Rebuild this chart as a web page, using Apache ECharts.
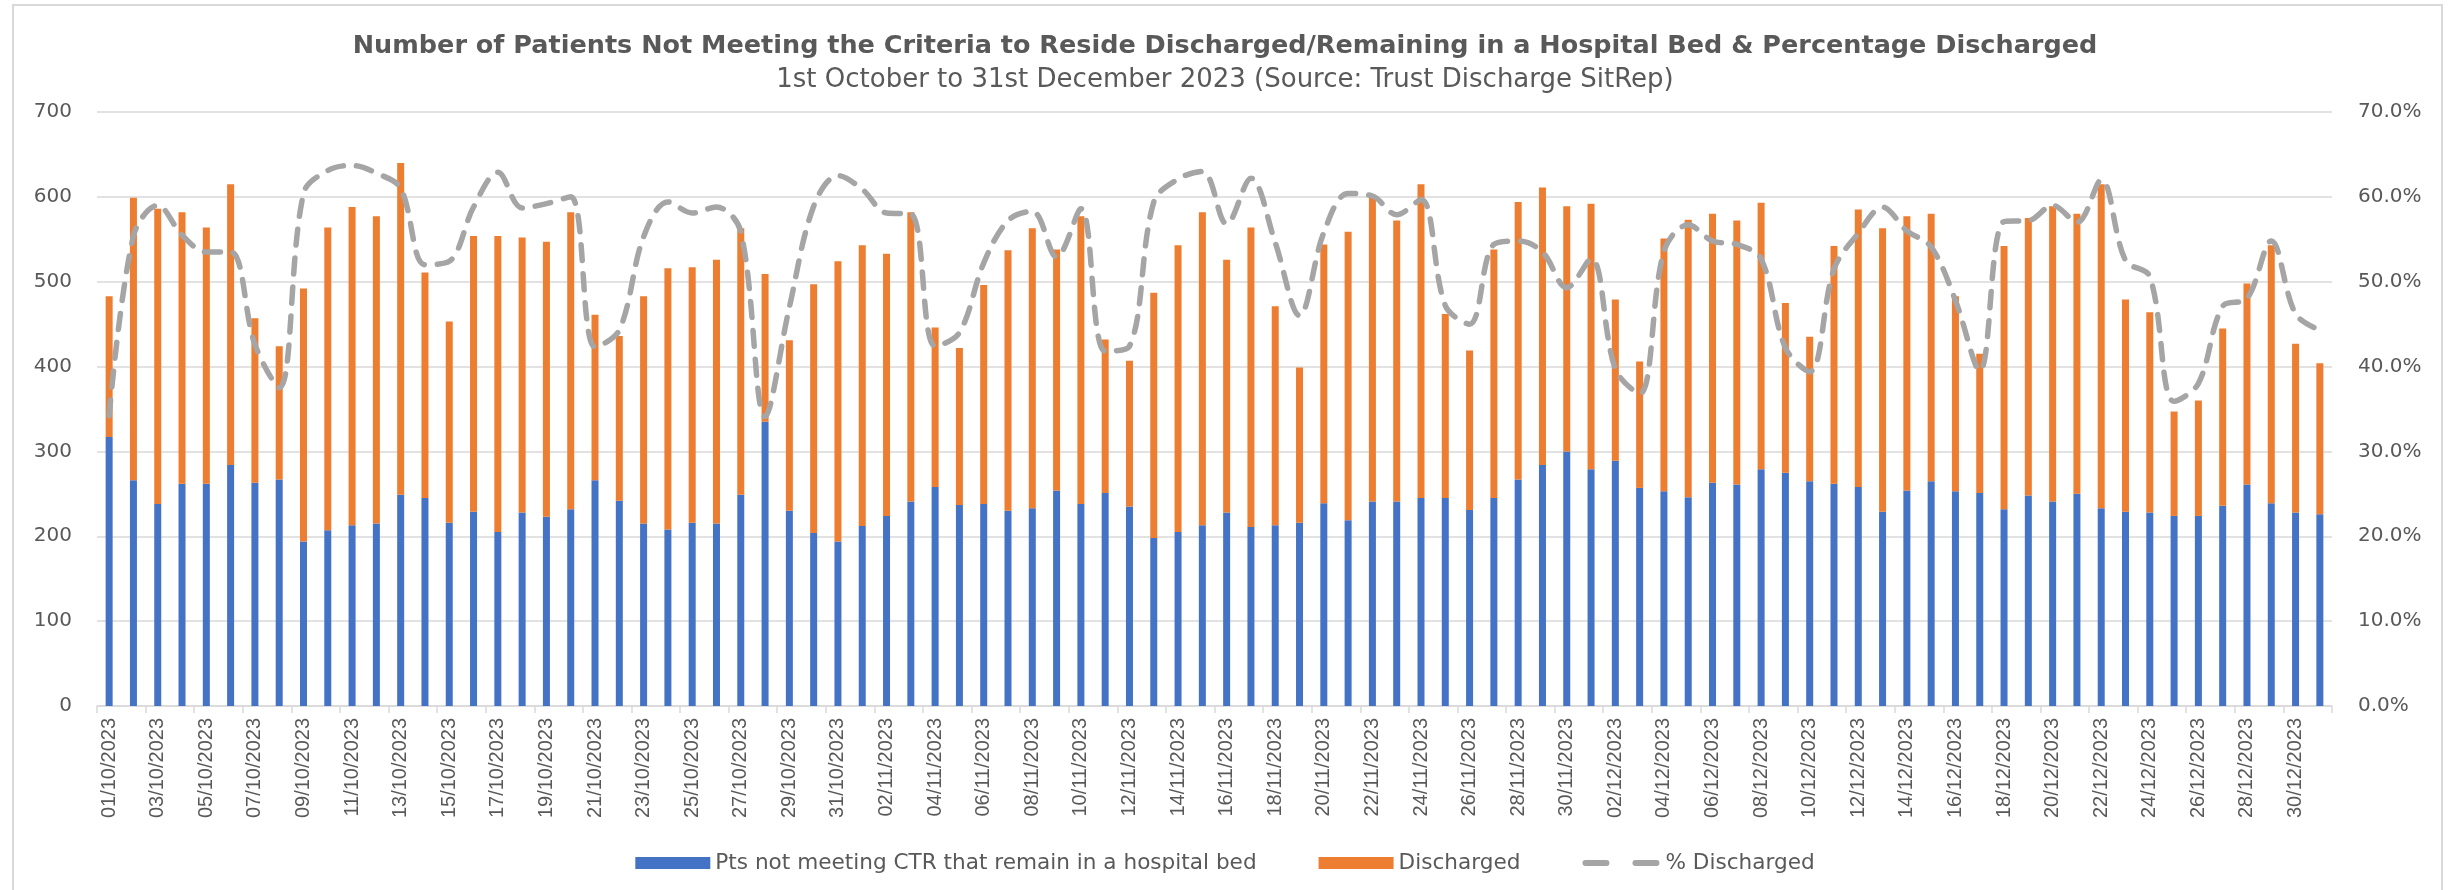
<!DOCTYPE html>
<html>
<head>
<meta charset="utf-8">
<script src="https://cdn.jsdelivr.net/npm/echarts@6/dist/echarts.min.js"></script>
<style>
html,body{margin:0;padding:0;background:#fff;}
#chart{width:2450px;height:890px;}
</style>
</head>
<body>
<div id="chart"></div>
<script>
const titleText = 'Number of Patients Not Meeting the Criteria to Reside Discharged/Remaining in a Hospital Bed & Percentage Discharged';
const subtitleText = '1st October to 31st December 2023 (Source: Trust Discharge SitRep)';
const seriesNames = ['Pts not meeting CTR that remain in a hospital bed', 'Discharged', '% Discharged'];

const dates = [
'01/10/2023','02/10/2023','03/10/2023','04/10/2023','05/10/2023','06/10/2023','07/10/2023','08/10/2023','09/10/2023','10/10/2023',
'11/10/2023','12/10/2023','13/10/2023','14/10/2023','15/10/2023','16/10/2023','17/10/2023','18/10/2023','19/10/2023','20/10/2023',
'21/10/2023','22/10/2023','23/10/2023','24/10/2023','25/10/2023','26/10/2023','27/10/2023','28/10/2023','29/10/2023','30/10/2023',
'31/10/2023',
'01/11/2023','02/11/2023','03/11/2023','04/11/2023','05/11/2023','06/11/2023','07/11/2023','08/11/2023','09/11/2023','10/11/2023',
'11/11/2023','12/11/2023','13/11/2023','14/11/2023','15/11/2023','16/11/2023','17/11/2023','18/11/2023','19/11/2023','20/11/2023',
'21/11/2023','22/11/2023','23/11/2023','24/11/2023','25/11/2023','26/11/2023','27/11/2023','28/11/2023','29/11/2023','30/11/2023',
'01/12/2023','02/12/2023','03/12/2023','04/12/2023','05/12/2023','06/12/2023','07/12/2023','08/12/2023','09/12/2023','10/12/2023',
'11/12/2023','12/12/2023','13/12/2023','14/12/2023','15/12/2023','16/12/2023','17/12/2023','18/12/2023','19/12/2023','20/12/2023',
'21/12/2023','22/12/2023','23/12/2023','24/12/2023','25/12/2023','26/12/2023','27/12/2023','28/12/2023','29/12/2023','30/12/2023',
'31/12/2023'
];

// Pts not meeting CTR that remain in a hospital bed (blue)
const remaining = [
317,266,238,262,262,284,263,267,194,207,
213,215,249,245,216,229,205,228,223,232,
266,242,215,208,216,215,249,335,230,204,
194,
212,224,241,258,237,238,230,233,254,238,
251,235,198,205,213,228,211,213,216,239,
219,241,241,245,245,231,245,267,284,300,
279,289,257,253,246,263,261,279,275,265,
262,258,229,254,265,253,251,232,248,241,
250,233,229,228,224,224,236,261,239,228,
226
];

// Discharged (orange, stacked on top)
const discharged = [
166,333,348,320,302,331,194,157,298,357,
375,362,391,266,237,325,349,324,324,350,
195,194,268,308,301,311,314,174,201,293,
330,
331,309,341,188,185,258,307,330,284,339,
181,172,289,338,369,298,353,258,183,305,
340,361,331,370,217,188,293,327,327,289,
313,190,149,298,327,317,311,314,200,170,
280,327,334,323,315,230,164,310,327,348,
330,382,250,236,123,136,209,237,304,199,
178
];

// % Discharged (right axis, in percent)
const pctDischarged = [
34.2,55.4,59.0,55.5,53.5,53.5,42.6,37.5,60.4,63.1,
63.7,62.8,61.0,52.0,52.4,58.8,62.9,58.7,59.2,60.0,
42.3,44.3,55.3,59.4,58.1,58.8,55.9,34.1,47.0,58.9,
62.5,
60.9,58.1,58.0,42.4,44.0,52.2,57.2,58.3,52.9,58.6,
41.8,42.4,59.4,62.1,63.0,56.8,62.2,54.6,46.0,55.8,
60.4,60.1,57.9,59.7,47.2,45.0,54.4,54.8,53.5,49.3,
52.7,39.7,36.8,53.6,56.7,54.8,54.4,52.7,42.2,39.4,
51.5,55.7,58.8,56.0,54.1,47.8,39.5,57.1,57.2,59.0,
57.0,62.0,52.5,50.6,35.9,38.0,47.1,48.0,54.8,46.2,
44.3
];

const leftTicks = {min: 0, max: 700, interval: 100};
const rightTicks = {min: 0, max: 70, interval: 10};

const txt = '#595959';
const chart = echarts.init(document.getElementById('chart'), null, {renderer: 'canvas'});
chart.setOption({
  backgroundColor: '#ffffff',
  animation: false,
  graphic: [{
    type: 'rect', shape: {x: 13, y: 5, width: 2429, height: 900},
    style: {fill: 'none', stroke: '#d9d9d9', lineWidth: 2}, silent: true, z: -1
  }],
  title: [
    {text: titleText, left: 'center', top: 28,
     textStyle: {fontFamily: 'DejaVu Sans', fontWeight: 'bold', fontSize: 25.5, color: txt}},
    {text: subtitleText, left: 'center', top: 62,
     textStyle: {fontFamily: 'DejaVu Sans', fontWeight: 'normal', fontSize: 26, color: txt}}
  ],
  legend: {
    bottom: 11, left: 'center',
    itemWidth: 75, itemHeight: 12, itemGap: 62,
    textStyle: {fontFamily: 'DejaVu Sans', fontSize: 21.6, color: txt},
    data: [
      {name: seriesNames[0], icon: 'rect'},
      {name: seriesNames[1], icon: 'rect'},
      {name: seriesNames[2], itemStyle: {opacity: 0},
       lineStyle: {type: [21, 29], cap: 'round', width: 6, color: '#A5A5A5'}}
    ]
  },
  grid: {left: 97, right: 118, top: 112, height: 594, containLabel: false},
  xAxis: {
    type: 'category', data: dates, boundaryGap: true,
    axisLine: {lineStyle: {color: '#d9d9d9', width: 1.5}},
    axisTick: {show: true, interval: 1, alignWithLabel: false, length: 7, lineStyle: {color: '#d9d9d9', width: 1.5}},
    axisLabel: {interval: 1, rotate: 90, margin: 12, fontFamily: 'Liberation Sans', fontSize: 20, color: txt}
  },
  yAxis: [
    {type: 'value', min: leftTicks.min, max: leftTicks.max, interval: leftTicks.interval,
     axisLine: {show: false}, axisTick: {show: false},
     splitLine: {lineStyle: {color: '#d9d9d9', width: 1.5}},
     axisLabel: {margin: 25, fontFamily: 'DejaVu Sans', fontSize: 20, color: txt}},
    {type: 'value', min: rightTicks.min, max: rightTicks.max, interval: rightTicks.interval, position: 'right',
     axisLine: {show: false}, axisTick: {show: false}, splitLine: {show: false},
     axisLabel: {margin: 26, fontFamily: 'DejaVu Sans', fontSize: 20, color: txt,
       formatter: v => v.toFixed(1) + '%'}}
  ],
  series: [
    {name: seriesNames[0], type: 'bar', stack: 'total', data: remaining, barWidth: 7,
     itemStyle: {color: '#4472C4'}},
    {name: seriesNames[1], type: 'bar', stack: 'total', data: discharged, barWidth: 7,
     itemStyle: {color: '#ED7D31'}},
    {name: seriesNames[2], type: 'line', yAxisIndex: 1, data: pctDischarged, smooth: 0.35,
     symbol: 'none', z: 5,
     lineStyle: {color: '#A5A5A5', width: 5.5, type: [16, 13], cap: 'round'},
     itemStyle: {color: '#A5A5A5'}}
  ]
});
</script>
</body>
</html>
